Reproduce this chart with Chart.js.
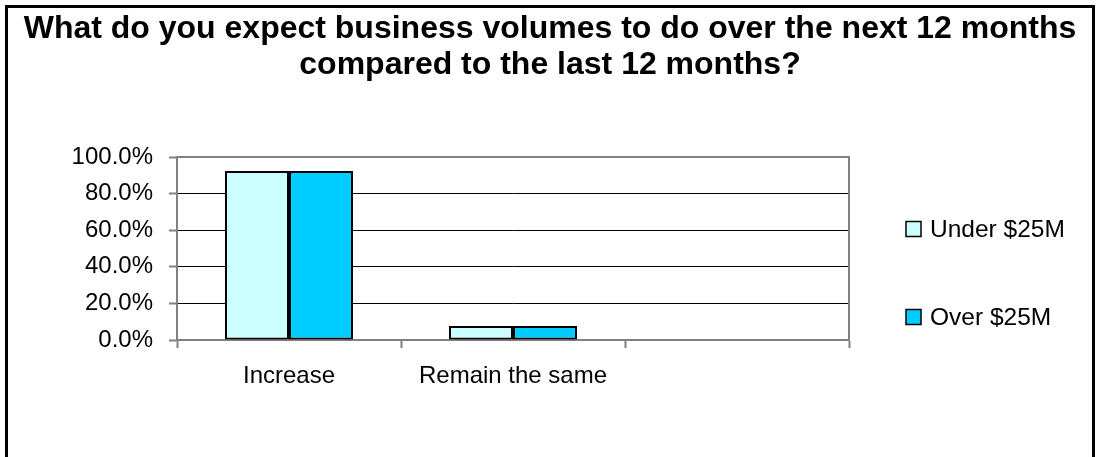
<!DOCTYPE html>
<html>
<head>
<meta charset="utf-8">
<script src="https://cdn.jsdelivr.net/npm/chart.js@4.4.1/dist/chart.umd.min.js"></script>
<style>
  html, body { margin: 0; padding: 0; background: #fff; overflow: hidden; }
  #wrap { position: relative; width: 1100px; height: 457px; }
  #frame { position: absolute; left: 5px; top: 5px; width: 1090px; height: 470px;
           border: 3px solid #000; box-sizing: border-box; pointer-events: none; }
  canvas { position: absolute; left: 0; top: 0; }
</style>
</head>
<body>
<div id="wrap">
  <canvas id="chart" width="1100" height="457"></canvas>
  <div id="frame"></div>
</div>
<script>
// Survey answers (share of respondents, %)
const categories = ['Increase', 'Remain the same', ''];
const under25M = [92.3, 7.7, null];
const over25M = [92.3, 7.7, null];
const seriesNames = ['Under $25M', 'Over $25M'];
const seriesColors = ['#CCFFFF', '#00CCFF'];
const tickValues = [0, 20, 40, 60, 80, 100];
const tickLabels = ['0.0%', '20.0%', '40.0%', '60.0%', '80.0%', '100.0%'];
const titleLines = ['What do you expect business volumes to do over the next 12 months',
                    'compared to the last 12 months?'];

const FONT = 'Liberation Sans, Arial, Helvetica, sans-serif';

// Grey frame around the plot area (top and right edges)
const plotFrame = {
  id: 'plotFrame',
  beforeDatasetsDraw(chart) {
    const { ctx, chartArea: a } = chart;
    ctx.save();
    ctx.strokeStyle = '#808080';
    ctx.lineWidth = 2;
    ctx.beginPath();
    ctx.moveTo(a.left, a.top);
    ctx.lineTo(a.right, a.top);
    ctx.lineTo(a.right, a.bottom);
    ctx.stroke();
    ctx.restore();
  }
};

// Legend in the reserved column right of the plot, one entry per dataset
const sideLegend = {
  id: 'sideLegend',
  afterDraw(chart, args, opts) {
    const { ctx } = chart;
    ctx.save();
    ctx.font = '24.5px ' + FONT;
    ctx.textBaseline = 'middle';
    ctx.textAlign = 'left';
    chart.data.datasets.forEach((ds, i) => {
      const cy = opts.firstY + i * opts.gap;
      const x = opts.x;
      ctx.fillStyle = ds.backgroundColor;
      ctx.fillRect(x, cy - 7.5, 15, 15);
      ctx.strokeStyle = '#000';
      ctx.lineWidth = 1.5;
      ctx.strokeRect(x, cy - 7.5, 15, 15);
      ctx.fillStyle = '#000';
      ctx.fillText(ds.label, x + 24, cy + 1);
    });
    ctx.restore();
  }
};

new Chart(document.getElementById('chart'), {
  type: 'bar',
  data: {
    labels: categories,
    datasets: [
      { label: seriesNames[0], data: under25M, backgroundColor: seriesColors[0],
        borderColor: '#000', borderWidth: 2, borderSkipped: false },
      { label: seriesNames[1], data: over25M, backgroundColor: seriesColors[1],
        borderColor: '#000', borderWidth: 2, borderSkipped: false }
    ]
  },
  options: {
    responsive: false,
    animation: false,
    devicePixelRatio: 1,
    layout: { padding: 0 },
    datasets: { bar: { categoryPercentage: 0.5714, barPercentage: 1.0 } },
    plugins: {
      legend: { display: false },
      tooltip: { enabled: false },
      title: {
        display: true,
        text: titleLines,
        color: '#000',
        font: { family: FONT, size: 32, weight: 'bold', lineHeight: 1.1 },
        padding: { top: 12, bottom: 74.6 }
      },
      sideLegend: { x: 906, firstY: 229, gap: 88 }
    },
    scales: {
      x: {
        offset: true,
        afterFit(scale) { scale.height = 117; },
        grid: { display: true, offset: true, drawOnChartArea: false, drawTicks: true,
                tickLength: 8, tickColor: '#808080', tickWidth: 2 },
        border: { display: true, color: '#808080', width: 2 },
        ticks: { color: '#000', font: { family: FONT, size: 24 }, padding: 14, maxRotation: 0 }
      },
      y: {
        min: 0,
        max: 100,
        afterFit(scale) { scale.width = 177; },
        afterBuildTicks(scale) { scale.ticks = tickValues.map(v => ({ value: v })); },
        grid: { color: (c) => (c.tick && c.tick.value === 100 ? '#808080' : '#000'),
                lineWidth: 1, tickLength: 8, tickColor: '#808080', tickWidth: 2 },
        border: { display: true, color: '#808080', width: 2 },
        ticks: {
          color: '#000',
          font: { family: FONT, size: 24 },
          padding: 16,
          callback: (v, i) => tickLabels[i]
        }
      },
      // blank column on the right that holds the legend
      legendSpace: {
        type: 'linear',
        position: 'right',
        display: true,
        afterFit(scale) { scale.width = 251; },
        grid: { display: false },
        border: { display: false },
        ticks: { display: false }
      }
    }
  },
  plugins: [plotFrame, sideLegend]
});
</script>
</body>
</html>
